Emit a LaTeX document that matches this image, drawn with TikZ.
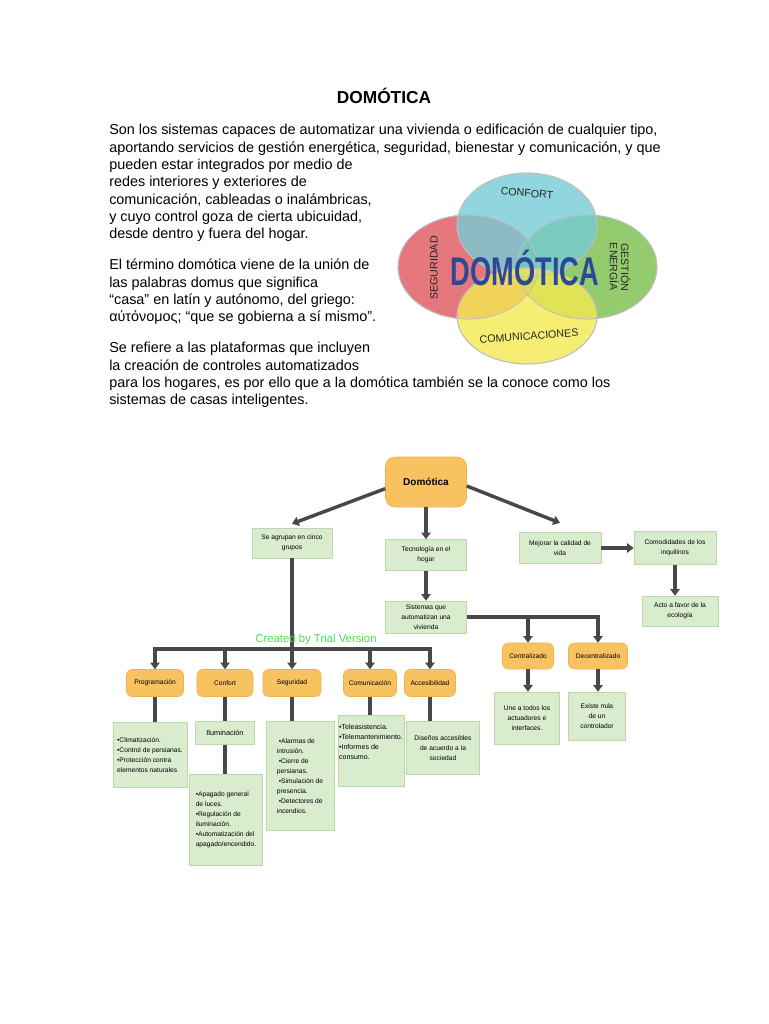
\documentclass[tikz,border=0pt]{standalone}
\usepackage{fontspec}
\setmainfont{Liberation Sans}
\usepackage{graphicx}
\usetikzlibrary{arrows.meta,positioning,calc}
\definecolor{boxgreen}{RGB}{217,236,206}
\definecolor{edgegreen}{RGB}{190,216,172}
\definecolor{boxorange}{RGB}{249,194,96}
\definecolor{edgeorange}{RGB}{240,178,72}
\definecolor{linkgray}{RGB}{72,72,72}
\definecolor{vred}{RGB}{224,86,92}
\definecolor{vteal}{RGB}{118,204,214}
\definecolor{vgreen}{RGB}{122,190,74}
\definecolor{vyellow}{RGB}{243,234,80}
\definecolor{vblue}{RGB}{44,72,152}
\definecolor{trialgreen}{RGB}{80,222,80}
\tikzset{
  para/.style={anchor=north west, align=left, inner sep=0pt, font=\fontsize{10.8}{13}\selectfont},
  leaf/.style={draw=edgegreen, fill=boxgreen, align=center, inner sep=1pt, font=\fontsize{5}{7.5}\selectfont},
  topic/.style={draw=edgeorange, fill=boxorange, rounded corners=1.5mm, align=center, inner sep=1pt,
    font=\fontsize{5}{7}\selectfont, minimum height=20.25pt},
  link/.style={draw=linkgray, line width=2.6pt},
  line/.style={link, -{Triangle[width=7pt,length=5pt]}},
  petal/.style={draw=black!25, fill opacity=0.8, line width=0.6pt},
  tag/.style={font=\fontsize{8}{9}\selectfont, text=black!85}
}

\begin{document}
\begin{tikzpicture}[x=0.75pt, y=-0.75pt]
  \useasboundingbox (0,0) rectangle (768,1024);
  \fill[white] (0,0) rectangle (768,1024);

  % heading and text
  \node[font=\bfseries\fontsize{13}{15}\selectfont] (title) at (384,96) {DOMÓTICA};
  \node[para] (intro) at (109,124) {Son los sistemas capaces de automatizar una vivienda o edificación de cualquier tipo,\\
    aportando servicios de gestión energética, seguridad, bienestar y comunicación, y que\\
    pueden estar integrados por medio de\\
    redes interiores y exteriores de\\
    comunicación, cableadas o inalámbricas,\\
    y cuyo control goza de cierta ubicuidad,\\
    desde dentro y fuera del hogar.};
  \node[para] (origin) at (109,259) {El término domótica viene de la unión de\\
    las palabras domus que significa\\
    “casa” en latín y autónomo, del griego:\\
    αύτόνομος; “que se gobierna a sí mismo”.};
  \node[para] (scope) at (109,342) {Se refiere a las plataformas que incluyen\\
    la creación de controles automatizados\\
    para los hogares, es por ello que a la domótica también se la conoce como los\\
    sistemas de casas inteligentes.};

  % venn
  \fill[petal, fill=vred] (468,267) ellipse [x radius=70, y radius=52];
  \fill[petal, fill=vgreen] (587,267) ellipse [x radius=70, y radius=52];
  \fill[petal, fill=vteal] (527,225) ellipse [x radius=70, y radius=52];
  \fill[petal, fill=vyellow] (527,316) ellipse [x radius=70, y radius=48];
  \draw[black!25, line width=0.6pt] (468,267) ellipse [x radius=70, y radius=52]
    (587,267) ellipse [x radius=70, y radius=52]
    (527,225) ellipse [x radius=70, y radius=52]
    (527,316) ellipse [x radius=70, y radius=48];
  \node[tag, rotate=-5] (vconf) at (527,193) {CONFORT};
  \node[tag, rotate=90] (vseg) at (434,268) {SEGURIDAD};
  \node[tag, rotate=-90, align=center, font=\fontsize{8}{8.5}\selectfont] (vgest) at (620,267) {GESTIÓN\\ENERGÍA};
  \node[tag, rotate=4] (vcom) at (529,336) {COMUNICACIONES};
  \node[text=vblue, font=\bfseries\fontsize{30}{30}\selectfont] (vtitle) at (525,268) {\scalebox{0.68}[1]{DOMÓTICA}};

  % concept map
  \node[topic, font=\bfseries\fontsize{7.5}{9}\selectfont, minimum width=60.75pt, minimum height=37.5pt, rounded corners=2.5mm] (dom) at (426,482) {Domótica};
  \node[leaf, minimum width=60pt, minimum height=22.5pt] (agrupan) at (292,543) {Se agrupan en cinco\\grupos};
  \node[leaf, minimum width=60.75pt, minimum height=23.25pt] (tecno) at (426,555) {Tecnología en el\\hogar};
  \node[leaf, minimum width=61.5pt, minimum height=23.25pt] (mejorar) at (560,548) {Mejorar la calidad de\\vida};
  \node[leaf, minimum width=61.5pt, minimum height=24.75pt] (comod) at (675,548) {Comodidades de los\\inquilinos};
  \node[leaf, minimum width=57pt, minimum height=22.5pt] (acto) at (680,611) {Acto a favor de la\\ecología};
  \node[leaf, minimum width=60.75pt, minimum height=24pt] (sistemas) at (426,617) {Sistemas que\\automatizan una\\vivienda};
  \node[topic, minimum width=38.25pt, minimum height=19.5pt] (central) at (528,656) {Centralizado};
  \node[topic, minimum width=44.25pt, minimum height=19.5pt] (decentral) at (598,656) {Decentralizado};
  \node[leaf, minimum width=48.75pt, minimum height=39pt] (une) at (527,718) {Une a todos los\\actuadores e\\interfaces.};
  \node[leaf, minimum width=42.75pt, minimum height=36pt] (existe) at (597,716) {Existe más\\de un\\controlador};

  \node[topic, minimum width=42.75pt] (prog) at (155,683) {Programación};
  \node[topic, minimum width=42pt] (confort) at (225,683) {Confort};
  \node[topic, minimum width=43.5pt] (segur) at (292,683) {Seguridad};
  \node[topic, minimum width=39.75pt] (comun) at (370,683) {Comunicación};
  \node[topic, minimum width=38.25pt] (acces) at (430,683) {Accesibilidad};

  \node[leaf, align=left, minimum width=55.5pt, minimum height=48.75pt] (proglist) at (150,755) {•Climatización.\\•Control de persianas.\\•Protección contra\\elementos naturales};
  \node[leaf, minimum width=44.25pt, minimum height=17.25pt, font=\fontsize{5.5}{7}\selectfont] (ilum) at (225,733) {Iluminación};
  \node[leaf, align=left, minimum width=54.75pt, minimum height=68.25pt] (conflist) at (226,820) {•Apagado general\\de luces.\\•Regulación de\\iluminación.\\•Automatización del\\apagado/encendido.};
  \node[leaf, align=left, minimum width=51pt, minimum height=81.75pt] (seglist) at (300,776) {\ •Alarmas de\\intrusión.\\\ •Cierre de\\persianas.\\\ •Simulación de\\presencia.\\\ •Detectores de\\incendios.};
  \node[leaf, align=left, minimum width=48.75pt, minimum height=53.25pt, font=\fontsize{5.3}{7.5}\selectfont] (comlist) at (371,751) {•Teleasistencia.\\•Telemantenimiento.\\•Informes de\\consumo.\\[6pt]};
  \node[leaf, minimum width=54.75pt, minimum height=39.75pt] (acclist) at (443,748) {Diseños accesibles\\de acuerdo a la\\sociedad};

  % connectors
  \draw[line] ([yshift=-5pt]dom.west) -- ([yshift=3pt]agrupan.north);
  \draw[line] ([yshift=-3pt]dom.east) -- ([yshift=7pt]mejorar.north);
  \draw[line] (dom.south) -- (tecno.north);
  \draw[line] (tecno.south) -- (sistemas.north);
  \draw[line] (mejorar.east) -- (comod.west);
  \draw[line] (comod.south) -- (comod.south |- acto.north);
  \draw[line] (sistemas.east) -| (decentral.north);
  \draw[line] (sistemas.east -| central.north) -- (central.north);
  \draw[line] (central.south) -- (central.south |- une.north);
  \draw[line] (decentral.south) -- (decentral.south |- existe.north);

  \coordinate (hub) at (292,649);
  \draw[link] (agrupan.south) -- (hub);
  \draw[link] ([xshift=-1.5pt]prog.north |- hub) -- ([xshift=1.5pt]acces.north |- hub);
  \foreach \t in {prog,confort,segur,comun,acces}
    \draw[line] (\t.north |- hub) -- (\t.north);

  \draw[link] (prog.south) -- (prog.south |- proglist.north);
  \draw[link] (confort.south) -- (ilum.north);
  \draw[link] (ilum.south) -- (ilum.south |- conflist.north);
  \draw[link] (segur.south) -- (segur.south |- seglist.north);
  \draw[link] (comun.south) -- (comun.south |- comlist.north);
  \draw[link] (acces.south) -- (acces.south |- acclist.north);

  \node[text=trialgreen, font=\fontsize{8.5}{9}\selectfont] (trial) at (316,640) {Created by Trial Version};
\end{tikzpicture}
\end{document}
